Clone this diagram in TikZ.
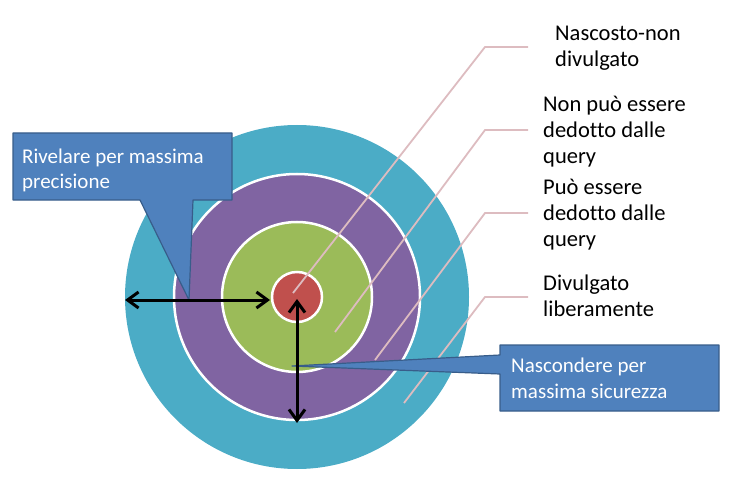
\documentclass[tikz,border=0pt]{standalone}
\usepackage{fontspec}
\setmainfont{Carlito}[Ligatures=NoCommon]
\usetikzlibrary{arrows,arrows.meta}

\definecolor{ringteal}{HTML}{4BACC6}
\definecolor{ringviolet}{HTML}{8064A2}
\definecolor{ringgreen}{HTML}{9BBB59}
\definecolor{ringred}{HTML}{C0504D}
\definecolor{leadpink}{RGB}{221,188,192}
\definecolor{callblue}{HTML}{4F81BD}
\definecolor{callborder}{HTML}{385D8A}

\tikzset{
  ring/.style={draw=white, line width=2.5pt},
  leader/.style={draw=leadpink, line width=1.8pt},
  callout/.style={fill=callblue, draw=callborder, line width=1.2pt, line join=round},
  lab/.style={font=\fontsize{22.5}{26}\selectfont, align=left, inner sep=0pt, anchor=base west},
  calltext/.style={lab, font=\fontsize{21}{25.5}\selectfont, text=white},
  arr/.style={{Straight Barb[length=11pt,width=16pt]}-{Straight Barb[length=11pt,width=16pt]}, line width=3pt}
}

\begin{document}
\begin{tikzpicture}[x=1pt,y=-1pt]
	\useasboundingbox (0,0) rectangle (742,484);
	% rings
	\fill[ringteal] (297,297) circle[radius=172pt];
	\draw[ring, fill=ringviolet] (297,297) circle[radius=123pt];
	\draw[ring, fill=ringgreen] (297,297) circle[radius=75pt];
	\draw[ring, fill=ringred] (297,297) circle[radius=25pt];

	% labels on the right (base = last line)
	\node[lab] (nasc) at (555,67) {Nascosto-non\\divulgato};
	\node[lab] (nonded) at (543,164) {Non può essere\\dedotto dalle\\query};
	\node[lab] (ded) at (543,246) {Può essere\\dedotto dalle\\query};
	\node[lab] (divulg) at (543,316) {Divulgato\\liberamente};

	% leader lines
	\coordinate (tipA) at (293,293);
	\coordinate (tipB) at (335,332);
	\coordinate (tipC) at (375,360);
	\coordinate (tipD) at (404,403);
	\coordinate (bendA) at (485,47);
	\coordinate (bendB) at (485,130);
	\coordinate (bendC) at (485,213);
	\coordinate (bendD) at (485,297);
	\draw[leader] (tipA) -- (bendA) -- ++(43,0);
	\draw[leader] (tipB) -- (bendB) -- ++(43,0);
	\draw[leader] (tipC) -- (bendC) -- ++(43,0);
	\draw[leader] (tipD) -- (bendD) -- ++(43,0);

	% callouts
	\coordinate (rivTip) at (189,300);
	\coordinate (nascTip) at (292,366);
	\draw[callout] (13,133) -- (232,133) -- (232,200) -- (193,200) -- (rivTip) -- (140,200) -- (13,200) -- cycle;
	\draw[callout] (500,345) -- (719,345) -- (719,411) -- (500,411) -- (500,374) -- (nascTip) -- (500,355) -- cycle;
	\node[calltext] (riv) at (22,189) {Rivelare per massima\\precisione};
	\node[calltext] (nasco) at (511,398) {Nascondere per\\massima sicurezza};

	% arrows
	\coordinate (leftEnd) at (125,300);
	\coordinate (bottomEnd) at (297,423);
	\draw[arr] (leftEnd) -- (270,300);
	\draw[arr] (297,299) -- (bottomEnd);
\end{tikzpicture}
\end{document}
